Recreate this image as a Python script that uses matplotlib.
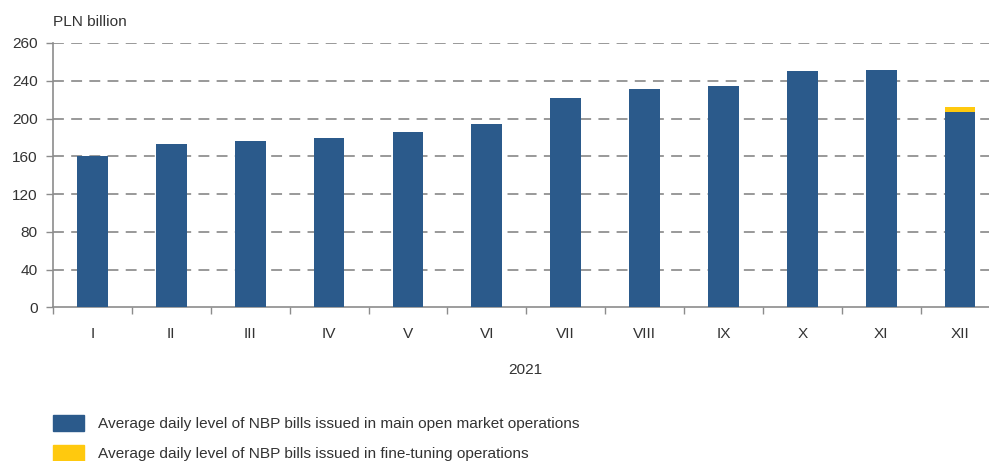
import matplotlib
matplotlib.use("Agg")
import matplotlib.pyplot as plt
from matplotlib.patches import Rectangle

plt.rcParams['font.family'] = ['Liberation Sans', 'DejaVu Sans']

months = ["I", "II", "III", "IV", "V", "VI", "VII", "VIII", "IX", "X", "XI", "XII"]
main_ops = [160, 173, 176, 179, 186, 194, 222, 231, 234, 250, 251, 207]
fine_tuning = [0, 0, 0, 0, 0, 0, 0, 0, 0, 0, 0, 5]
ytick_values = [0, 40, 80, 120, 160, 200, 240, 280]
ytick_labels = ["0", "40", "80", "120", "160", "200", "240", "260"]
year_label = "2021"
unit_label = "PLN billion"
legend_labels = ["Average daily level of NBP bills issued in main open market operations",
                 "Average daily level of NBP bills issued in fine-tuning operations"]

blue = "#2B5A8B"
yellow = "#FFC90E"
grid_c = "#999999"
axis_c = "#8C8C8C"
text_c = "#333333"
fs = 11.1

W, H = 989, 461
fig = plt.figure(figsize=(W / 100, H / 100), dpi=100)
left = 53 / W
right = 999.5 / W
bottom = 1 - 307.3 / H
top = 1 - 43 / H
ax = fig.add_axes([left, bottom, right - left, top - bottom])

x = list(range(len(months)))
ax.bar(x, main_ops, width=0.39, color=blue, zorder=3)
ax.bar(x, fine_tuning, width=0.39, bottom=main_ops, color=yellow, zorder=3)

ax.set_xlim(-0.5, len(months) - 0.5)
ax.set_ylim(0, 280)
ax.set_yticks(ytick_values)
ax.set_yticklabels(ytick_labels, fontsize=fs, color=text_c)
ax.set_xticks(x)
ax.set_xticklabels(months, fontsize=fs, color=text_c)
ax.set_xticks([i - 0.5 for i in range(len(months) + 1)], minor=True)
ax.tick_params(axis='x', which='major', length=0, pad=14)
ax.tick_params(axis='x', which='minor', length=5, color=axis_c, width=1)
ax.tick_params(axis='y', length=5, color=axis_c, width=1, pad=6)

for v in ytick_values[1:]:
    ax.axhline(v, color=grid_c, lw=1.4, ls=(0, (5.6, 3.75)), zorder=1)

for s in ["top", "right"]:
    ax.spines[s].set_visible(False)
for s in ["left", "bottom"]:
    ax.spines[s].set_color(axis_c)
    ax.spines[s].set_linewidth(1.2)

fig.text(53 / W, 1 - 22 / H, unit_label, fontsize=fs, color=text_c, ha='left', va='center')
fig.text(525 / W, 1 - 370 / H, year_label, fontsize=fs, color=text_c, ha='center', va='center')

for i, (lab, c) in enumerate(zip(legend_labels, [blue, yellow])):
    ytop = 415 + i * 30
    fig.patches.append(Rectangle((53 / W, 1 - (ytop + 16) / H), 31 / W, 16 / H,
                                 transform=fig.transFigure, color=c, figure=fig))
    fig.text(98 / W, 1 - (ytop + 9) / H, lab, fontsize=fs, color=text_c, ha='left', va='center')

fig.savefig("out.png", dpi=100)
